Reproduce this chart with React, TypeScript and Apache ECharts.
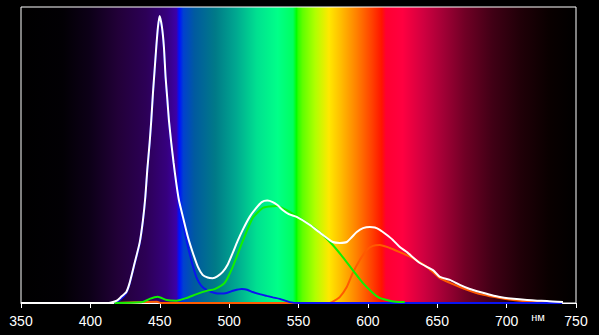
import React, { useEffect, useRef } from "react";
import * as echarts from "echarts";

// wavelength ticks
const xTicks = [350, 400, 450, 500, 550, 600, 650, 700, 750];

// White (total) spectrum
const whiteNm = [350, 412, 415, 419, 422, 425.9, 428.3, 431.9, 435.5, 437.9, 439.6, 441.0, 442.7, 443.9, 445.1, 446.3, 447.5, 448.7, 449.9, 451.6, 453.0, 454.2, 455.5, 456.6, 458.3, 460.0, 461.9, 463.8, 466.7, 470.3, 473.9, 477.5, 480.9, 484.5, 488.1, 491.5, 495.4, 499, 502.6, 506, 509.8, 514.8, 519, 523.5, 527.5, 531.4, 535, 538.6, 543, 548.7, 558.1, 567.5, 574.7, 579.7, 584.8, 588.5, 592.0, 596.5, 601.4, 605, 608.6, 613, 618.0, 623.0, 628.1, 637.5, 646.9, 651.9, 659.1, 666.3, 673, 680.8, 688, 695.2, 705, 714.7, 722, 729.1, 740.6];
const whiteVal = [0, 0, 0.2, 0.8, 2.0, 3.7, 6.8, 13.5, 20.3, 28.0, 35.8, 44.9, 54.1, 61.8, 70.9, 78.7, 86.5, 93.2, 97.0, 93.2, 86.5, 76.4, 68.6, 61.8, 54.1, 47.3, 40.5, 34.8, 29.1, 22.3, 16.9, 12.2, 9.5, 8.6, 8.4, 9.0, 10.5, 13.0, 16.9, 20.8, 24.7, 29.1, 31.8, 34.1, 34.6, 34.1, 33.0, 31.4, 30.0, 29.1, 26.4, 23.0, 20.6, 20.3, 20.6, 22.3, 24.0, 25.3, 25.7, 25.5, 24.7, 23.2, 21.3, 18.9, 17.2, 13.5, 11.1, 8.8, 7.8, 6.1, 4.8, 3.7, 2.8, 2.0, 1.4, 1.0, 0.8, 0.7, 0.3];

// Blue component
const blueNm = [417, 421, 425.9, 428.3, 431.9, 435.5, 437.9, 439.6, 441.0, 442.7, 443.9, 445.1, 446.3, 447.5, 448.7, 449.9, 451.6, 453.0, 454.2, 455.5, 456.6, 458.3, 460.0, 461.9, 463.8, 466.7, 470.3, 473.9, 476.6, 480, 483.8, 489.6, 494, 498.2, 503.5, 509.1, 513, 517.0, 522, 527.1, 531.5, 536.5, 543.7, 551, 740];
const blueVal = [0, 1.0, 3.4, 6.5, 13.2, 20.0, 27.7, 35.5, 44.6, 53.8, 61.5, 70.6, 78.4, 86.2, 92.9, 96.7, 92.9, 86.2, 76.1, 68.3, 61.5, 53.8, 47.0, 40.0, 33.8, 27.0, 19.0, 12.5, 8.5, 5.8, 4.4, 3.4, 3.2, 3.4, 4.2, 4.7, 4.5, 3.7, 3.0, 2.4, 1.9, 1.4, 0.3, 0, 0];

// Green component
const greenNm = [417.4, 437.6, 442.7, 448.5, 455.0, 462.2, 469.4, 476.6, 483.8, 489.6, 496.8, 502.6, 509.8, 517.0, 524.2, 529, 534.3, 541.5, 550.9, 560.3, 567.5, 574.7, 581.9, 589.1, 596.3, 603.6, 608, 613.6, 620, 626.6];
const greenVal = [0, 0.3, 1.4, 2.1, 1.0, 0.8, 1.7, 3.0, 4.1, 4.7, 6.8, 12.2, 20.9, 28.7, 32.1, 32.6, 32.8, 31.4, 28.7, 25.7, 23.0, 19.6, 15.5, 11.1, 6.8, 3.4, 1.8, 1.0, 0.4, 0.3];

// Red / orange component
const redNm = [417, 448, 451, 572.5, 576, 579.7, 584.8, 589.1, 594.2, 599.2, 603.6, 608.6, 615.8, 623.0, 632.4, 642.5, 651.9, 659.1, 666.3, 673, 680.8, 688, 695.2, 702, 709.6, 720, 729.8];
const redVal = [0, 0.4, 0, 0, 0.8, 2.0, 5.4, 10.1, 14.5, 17.9, 19.3, 19.6, 18.6, 17.2, 15.2, 12.2, 8.4, 6.8, 5.4, 4.2, 3.0, 2.3, 1.7, 1.2, 0.8, 0.5, 0.3];

// spectrum background stops (wavelength, colour)
const bgNm = [350, 380, 400, 420, 440, 455, 462, 464, 467, 475, 490, 505, 520, 535, 546, 548.5, 550, 553, 562, 572, 580, 592, 603, 610, 613, 625, 640, 655, 670, 690, 710, 730, 750];
const bgColor = ["#000000", "#020004", "#0d0018", "#220038", "#2c0056", "#36007e", "#3c00a8", "#0010ff", "#0040d0", "#005aa0", "#007a88", "#00a890", "#00e090", "#00ff88", "#00ff60", "#00ff00", "#30ff00", "#60ff00", "#b0ff00", "#ffe800", "#ffc000", "#ff8000", "#ff4000", "#ff1400", "#ff0030", "#ff0040", "#d00040", "#a00035", "#700025", "#400015", "#200008", "#0a0000", "#000000"];

const pairs = (xs: number[], ys: number[]) => xs.map((x, i) => [x, ys[i]]);

export default function App() {
  const ref = useRef<HTMLDivElement>(null);
  useEffect(() => {
    if (!ref.current) return;
    const chart = echarts.init(ref.current, undefined, { renderer: "svg" });
    const stops = bgNm.map((nm, i) => ({ offset: (nm - 350) / 400, color: bgColor[i] }));
    const lineCommon = { type: "line" as const, showSymbol: false, symbol: "none", smooth: 0.2 };
    chart.setOption({
      animation: false,
      backgroundColor: "#000000",
      grid: {
        left: 21,
        right: 23,
        top: 7,
        bottom: 32,
        show: true,
        borderColor: "#ffffff",
        borderWidth: 1,
        backgroundColor: new echarts.graphic.LinearGradient(0, 0, 1, 0, stops),
      },
      xAxis: {
        type: "value",
        min: 350,
        max: 750,
        interval: 50,
        axisLine: { show: true, lineStyle: { color: "#ffffff", width: 1 } },
        axisTick: { show: true, length: 5, lineStyle: { color: "#ffffff" } },
        axisLabel: { color: "#ffffff", fontSize: 14, fontFamily: "Liberation Sans, Arial, sans-serif", margin: 11, formatter: (v: number) => (xTicks.includes(v) ? String(v) : "") },
        splitLine: { show: false },
      },
      yAxis: {
        type: "value",
        min: 0,
        max: 100,
        show: false,
        splitLine: { show: false },
      },
      graphic: [
        {
          type: "text",
          x: 538,
          y: 317,
          style: { text: "нм", fill: "#ffffff", fontSize: 11, fontFamily: "Liberation Sans, Arial, sans-serif", textAlign: "center", textVerticalAlign: "middle" },
        },
      ],
      series: [
        { ...lineCommon, name: "red", data: pairs(redNm, redVal), lineStyle: { color: "#ff5a00", width: 2 } },
        { ...lineCommon, name: "blue", data: pairs(blueNm, blueVal), lineStyle: { color: "#0a14f0", width: 2 } },
        { ...lineCommon, name: "green", data: pairs(greenNm, greenVal), lineStyle: { color: "#10f000", width: 2 } },
        { ...lineCommon, name: "white", data: pairs(whiteNm, whiteVal), lineStyle: { color: "#ffffff", width: 2 } },
      ],
    });
    return () => chart.dispose();
  }, []);
  return <div ref={ref} style={{ position: "fixed", left: 0, top: 0, width: 599, height: 335, background: "#000" }} />;
}
